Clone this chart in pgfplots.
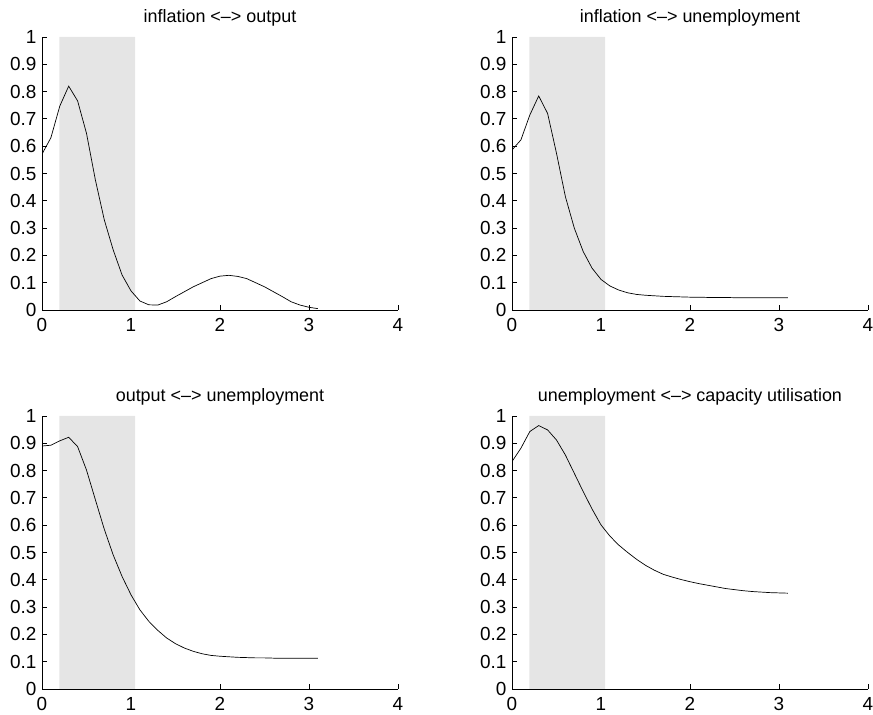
\documentclass[border=0pt]{standalone}
\usepackage{fontspec}
\setmainfont{Liberation Sans}
\usepackage{pgfplots}
\pgfplotsset{compat=1.18}

\pgfplotsset{
  panel/.style={
    width=356bp, height=273bp, scale only axis,
    xmin=0, xmax=4, ymin=0, ymax=1,
    xtick={0,1,2,3,4},
    ytick={0,0.1,0.2,0.3,0.4,0.5,0.6,0.7,0.8,0.9,1},
    yticklabels={0,0.1,0.2,0.3,0.4,0.5,0.6,0.7,0.8,0.9,1},
    axis lines*=left,
    axis line style={-, line width=0.7bp, black},
    tick style={black, line width=0.8bp},
    tick align=inside,
    major tick length=5bp,
    tick label style={font=\fontsize{19}{22}\selectfont},
    xticklabel style={yshift=-5bp},
    yticklabel style={xshift=-2bp},
    title style={font=\fontsize{18}{21}\selectfont, yshift=1bp},
    /pgf/number format/assume math mode=true,
  },
  band/.style={fill=gray!20, draw=none, forget plot},
  curve/.style={black, line width=0.7bp, mark=none},
}

\begin{document}
\begin{tikzpicture}
\useasboundingbox (0bp,0bp) rectangle (873bp,715bp);

% top left
\begin{axis}[panel, at={(42bp,405bp)}, anchor=south west, title={inflation <--> output}]
\addplot[band] coordinates {(0.196,0) (0.196,1) (1.047,1) (1.047,0)} \closedcycle;
\addplot[curve] coordinates {
(0.0,0.571) (0.1,0.631) (0.2,0.747) (0.3,0.820) (0.4,0.766) (0.5,0.647)
(0.6,0.476) (0.7,0.330) (0.8,0.220) (0.9,0.128) (1.0,0.070) (1.1,0.033)
(1.2,0.019) (1.3,0.018) (1.4,0.030) (1.5,0.049) (1.6,0.067) (1.7,0.085)
(1.8,0.100) (1.9,0.115) (2.0,0.124) (2.1,0.127) (2.2,0.123) (2.3,0.115)
(2.4,0.100) (2.5,0.085) (2.6,0.067) (2.7,0.049) (2.8,0.030) (2.9,0.018)
(3.0,0.010) (3.1,0.005)
};
\end{axis}

% top right
\begin{axis}[panel, at={(512bp,405bp)}, anchor=south west, title={inflation <--> unemployment}]
\addplot[band] coordinates {(0.196,0) (0.196,1) (1.047,1) (1.047,0)} \closedcycle;
\addplot[curve] coordinates {
(0.0,0.586) (0.1,0.623) (0.2,0.714) (0.3,0.784) (0.4,0.720) (0.5,0.574)
(0.6,0.415) (0.7,0.300) (0.8,0.214) (0.9,0.153) (1.0,0.112) (1.1,0.088)
(1.2,0.073) (1.3,0.063) (1.4,0.057) (1.5,0.054) (1.6,0.052) (1.7,0.050)
(1.8,0.049) (1.9,0.048) (2.0,0.047) (2.1,0.047) (2.2,0.046) (2.3,0.046)
(2.4,0.046) (2.5,0.045) (2.6,0.045) (2.7,0.045) (2.8,0.045) (2.9,0.045)
(3.0,0.045) (3.1,0.045)
};
\end{axis}

% bottom left
\begin{axis}[panel, at={(42bp,26bp)}, anchor=south west, title={output <--> unemployment}]
\addplot[band] coordinates {(0.196,0) (0.196,1) (1.047,1) (1.047,0)} \closedcycle;
\addplot[curve] coordinates {
(0.0,0.890) (0.1,0.893) (0.2,0.909) (0.3,0.922) (0.4,0.888) (0.5,0.802)
(0.6,0.693) (0.7,0.585) (0.8,0.491) (0.9,0.412) (1.0,0.345) (1.1,0.290)
(1.2,0.248) (1.3,0.215) (1.4,0.187) (1.5,0.166) (1.6,0.150) (1.7,0.138)
(1.8,0.129) (1.9,0.123) (2.0,0.120) (2.1,0.118) (2.2,0.116) (2.3,0.115)
(2.4,0.114) (2.5,0.114) (2.6,0.113) (2.7,0.113) (2.8,0.113) (2.9,0.113)
(3.0,0.113) (3.1,0.113)
};
\end{axis}

% bottom right
\begin{axis}[panel, at={(512bp,26bp)}, anchor=south west, title={unemployment <--> capacity utilisation}]
\addplot[band] coordinates {(0.196,0) (0.196,1) (1.047,1) (1.047,0)} \closedcycle;
\addplot[curve] coordinates {
(0.0,0.833) (0.1,0.882) (0.2,0.943) (0.3,0.965) (0.4,0.949) (0.5,0.912)
(0.6,0.857) (0.7,0.790) (0.8,0.723) (0.9,0.659) (1.0,0.601) (1.1,0.560)
(1.2,0.527) (1.3,0.500) (1.4,0.475) (1.5,0.453) (1.6,0.435) (1.7,0.420)
(1.8,0.410) (1.9,0.401) (2.0,0.393) (2.1,0.386) (2.2,0.380) (2.3,0.374)
(2.4,0.368) (2.5,0.364) (2.6,0.360) (2.7,0.357) (2.8,0.355) (2.9,0.353)
(3.0,0.352) (3.1,0.351)
};
\end{axis}
\end{tikzpicture}
\end{document}
